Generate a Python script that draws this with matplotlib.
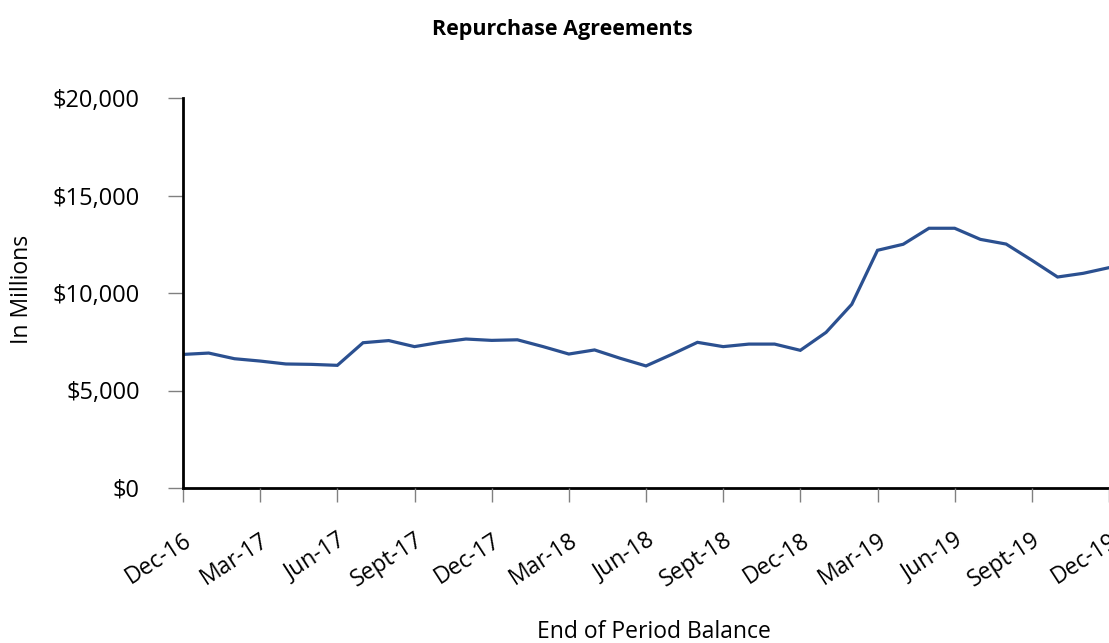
import matplotlib
matplotlib.use("Agg")
import matplotlib.pyplot as plt
from matplotlib.ticker import FuncFormatter

plt.rcParams['font.family'] = ['Open Sans', 'DejaVu Sans']

months = ["Dec-16", "Jan-17", "Feb-17", "Mar-17", "Apr-17", "May-17", "Jun-17",
          "Jul-17", "Aug-17", "Sept-17", "Oct-17", "Nov-17", "Dec-17",
          "Jan-18", "Feb-18", "Mar-18", "Apr-18", "May-18", "Jun-18",
          "Jul-18", "Aug-18", "Sept-18", "Oct-18", "Nov-18", "Dec-18",
          "Jan-19", "Feb-19", "Mar-19", "Apr-19", "May-19", "Jun-19",
          "Jul-19", "Aug-19", "Sept-19", "Oct-19", "Nov-19", "Dec-19"]
balance = [6850, 6920, 6630, 6510, 6360, 6340, 6290,
           7450, 7560, 7250, 7470, 7640, 7570,
           7600, 7250, 6870, 7080, 6650, 6260,
           6850, 7470, 7250, 7380, 7380, 7060,
           7980, 9420, 12190, 12500, 13320, 13320,
           12750, 12510, 11680, 10820, 11010, 11300]
tick_labels = ["Dec-16", "Mar-17", "Jun-17", "Sept-17", "Dec-17", "Mar-18", "Jun-18",
               "Sept-18", "Dec-18", "Mar-19", "Jun-19", "Sept-19", "Dec-19"]
y_ticks = [0, 5000, 10000, 15000, 20000]

fig = plt.figure(figsize=(11.09, 6.43), dpi=100)
ax = fig.add_axes([183/1109, 1-488/643, (1109-183)/1109, (488-98)/643])

x = list(range(len(balance)))
ax.plot(x, balance, color='#2B5090', linewidth=2.3, solid_joinstyle='miter')

ax.set_xlim(0, len(balance)-1)
ax.set_ylim(0, 20000)
tick_pos = [months.index(t) for t in tick_labels]
ax.set_xticks(tick_pos)
ax.set_xticklabels(tick_labels, rotation=33, ha='right', va='top',
                   rotation_mode='anchor', fontsize=16.5)
ax.set_yticks(y_ticks)
ax.yaxis.set_major_formatter(FuncFormatter(lambda v, p: f"${v:,.0f}"))
ax.tick_params(axis='y', labelsize=17, length=11, width=1, color='#808080',
               direction='out', pad=20)
ax.tick_params(axis='x', length=10, width=1, color='#808080',
               direction='out', pad=19)

for s in ['top', 'right']:
    ax.spines[s].set_visible(False)
for s in ['left', 'bottom']:
    ax.spines[s].set_linewidth(2)
    ax.spines[s].set_color('black')
ax.spines['bottom'].set_zorder(0)

fig.text(562/1109, 1-30/643, "Repurchase Agreements", ha='center', va='center',
         fontsize=15.5, fontweight='bold')
fig.text(22/1109, 1-289/643, "In Millions", rotation=90, ha='center', va='center',
         fontsize=16.5)
fig.text(654/1109, 1-632/643, "End of Period Balance", ha='center', va='center',
         fontsize=16.5)

fig.savefig("out.png", dpi=100)
